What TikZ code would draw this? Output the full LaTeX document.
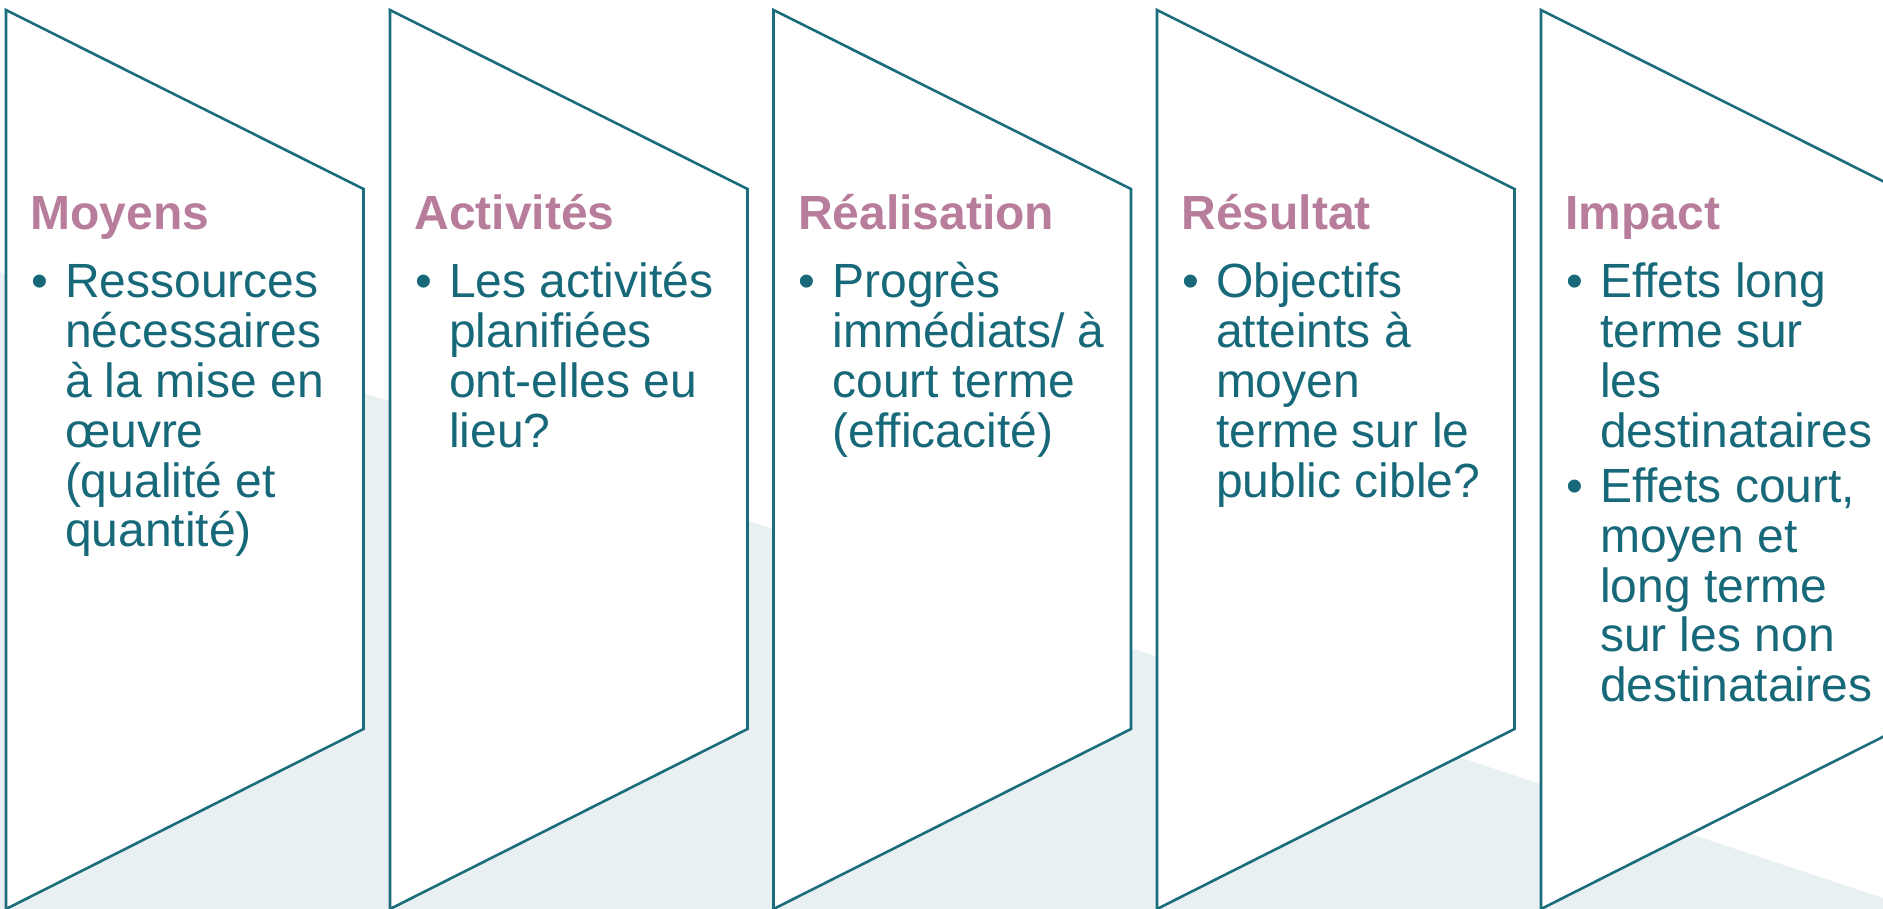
\documentclass[tikz,border=0pt]{standalone}
\usepackage{fontspec}
\setmainfont{Liberation Sans}[Ligatures=NoCommon]
\definecolor{edgec}{HTML}{1B6D7C}
\definecolor{bodyc}{HTML}{17697A}
\definecolor{ttlc}{HTML}{B87D9B}
\definecolor{bgc}{HTML}{E8F0F2}
\begin{document}
\begin{tikzpicture}[x=1pt,y=-1pt,
  panel/.style={draw=edgec,line width=2.6pt,fill=white,line join=miter},
  ttlstyle/.style={anchor=base west,inner sep=0pt,outer sep=0pt,text=ttlc,font=\fontsize{48}{50}\selectfont\bfseries},
  bodystyle/.style={anchor=base west,inner sep=0pt,outer sep=0pt,text=bodyc,font=\fontsize{48}{49.8}\selectfont},
  bulstyle/.style={anchor=base west,inner sep=0pt,outer sep=0pt,text=bodyc,font=\fontsize{48}{49.8}\selectfont}]
\useasboundingbox (0,0) rectangle (1883,909);
\clip (0,0) rectangle (1883,909);
\fill[bgc] (0,272) -- (1883,898) -- (1883,909) -- (0,909) -- cycle;
\foreach \L in {6,390,773.5,1157,1541} {
  \draw[panel] (\L,10) -- (\L+357.5,189) -- (\L+357.5,729) -- (\L,909) -- cycle;
}
% Moyens
\node[ttlstyle] (t1) at (30.5,230) {Moyens};
\node[bulstyle] (b1) at (31,298) {\textbullet};
\node[bodystyle] (x1) at (65,298) {\vtop{\hbox{Ressources}\hbox{nécessaires}\hbox{à la mise en}\hbox{œuvre}\hbox{(qualité et}\hbox{quantité)}}};
% Activites
\node[ttlstyle] (t2) at (414.5,230) {Activités};
\node[bulstyle] (b2) at (415,298) {\textbullet};
\node[bodystyle] (x2) at (449,298) {\vtop{\hbox{Les activités}\hbox{planifiées}\hbox{ont-elles eu}\hbox{lieu?}}};
% Realisation
\node[ttlstyle] (t3) at (798,230) {Réalisation};
\node[bulstyle] (b3) at (798.5,298) {\textbullet};
\node[bodystyle] (x3) at (832.5,298) {\vtop{\hbox{Progrès}\hbox{immédiats/ à}\hbox{court terme}\hbox{(efficacité)}}};
% Resultat
\node[ttlstyle] (t4) at (1181.5,230) {Résultat};
\node[bulstyle] (b4) at (1182,298) {\textbullet};
\node[bodystyle] (x4) at (1216,298) {\vtop{\hbox{Objectifs}\hbox{atteints à}\hbox{moyen}\hbox{terme sur le}\hbox{public cible?}}};
% Impact
\node[ttlstyle] (t5) at (1565.5,230) {Impact};
\node[bulstyle] (b5) at (1566,298) {\textbullet};
\node[bodystyle] (x5) at (1600,298) {\vtop{\hbox{Effets long}\hbox{terme sur}\hbox{les}\hbox{destinataires}}};
\node[bulstyle] (b6) at (1566,502.4) {\textbullet};
\node[bodystyle] (x6) at (1600,502.4) {\vtop{\hbox{Effets court,}\hbox{moyen et}\hbox{long terme}\hbox{sur les non}\hbox{destinataires}}};
\end{tikzpicture}
\end{document}
